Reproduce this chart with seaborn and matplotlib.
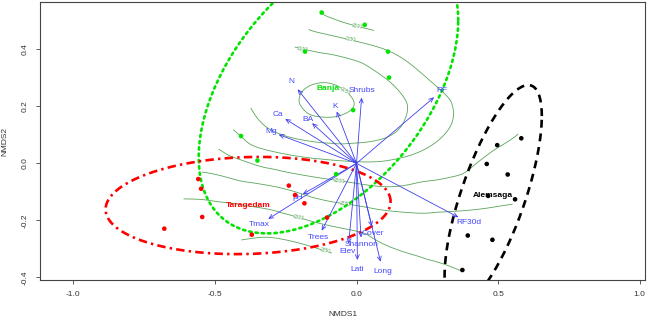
import numpy as np
import pandas as pd
import matplotlib
matplotlib.use("Agg")
import matplotlib.pyplot as plt
import matplotlib.tri as mtri
from matplotlib.path import Path
import seaborn as sns

# ---------------- data ----------------
groups = ["Banja", "Taragedam", "Alemsaga"]
group_colors = ["#00e400", "#ff0000", "#000000"]

banja_x = [-0.123, 0.029, -0.182, 0.111, 0.115, -0.012, -0.408, -0.350, -0.072]
banja_y = [0.529, 0.486, 0.392, 0.392, 0.301, 0.187, 0.096, 0.010, -0.038]
tara_x = [-0.559, -0.549, -0.545, -0.679, -0.239, -0.217, -0.184, -0.370, -0.104]
tara_y = [-0.055, -0.089, -0.188, -0.229, -0.078, -0.111, -0.140, -0.250, -0.190]
alem_x = [0.582, 0.497, 0.460, 0.534, 0.560, 0.465, 0.393, 0.480, 0.374]
alem_y = [0.088, 0.064, -0.002, -0.039, -0.126, -0.114, -0.253, -0.268, -0.374]

vec_names = ["N", "Shrubs", "K", "Ca", "BA", "Mg", "RF", "RF30d", "pH", "Tmax",
             "Trees", "Elev", "Lati", "Long", "Shannon", "Cover"]
vec_x = [-0.208, 0.018, -0.070, -0.252, -0.157, -0.275, 0.274, 0.360, -0.190, -0.312,
         -0.123, -0.028, 0.003, 0.085, 0.016, 0.054]
vec_y = [0.260, 0.231, 0.182, 0.156, 0.141, 0.101, 0.232, -0.189, -0.108, -0.195,
         -0.236, -0.282, -0.339, -0.345, -0.260, -0.222]

# fitted surface (ordisurf-like): coarse grid values estimated from the contours
surf_x = [-0.9, -0.7, -0.5, -0.3, -0.1, 0.1, 0.3, 0.5, 0.7]
surf_y = [-0.5, -0.4, -0.3, -0.2, -0.1, 0.0, 0.1, 0.2, 0.3, 0.4, 0.5, 0.6]
surf_z = [
    [2460, 2460, 2460, 2450, 2430, 2370, 2340, 2330, 2320],
    [2415, 2410, 2410, 2410, 2390, 2340, 2315, 2295, 2295],
    [2370, 2365, 2360, 2370, 2345, 2305, 2285, 2275, 2275],
    [2335, 2330, 2325, 2318, 2290, 2270, 2260, 2260, 2262],
    [2295, 2290, 2285, 2265, 2230, 2210, 2222, 2238, 2248],
    [2250, 2240, 2228, 2185, 2160, 2155, 2175, 2215, 2232],
    [2215, 2200, 2180, 2108, 2080, 2095, 2148, 2190, 2215],
    [2185, 2165, 2140, 2075, 2040, 2075, 2140, 2185, 2205],
    [2170, 2140, 2110, 2075, 2056, 2100, 2165, 2200, 2215],
    [2170, 2140, 2110, 2090, 2110, 2150, 2215, 2240, 2250],
    [2190, 2160, 2130, 2130, 2190, 2240, 2270, 2290, 2300],
    [2230, 2200, 2170, 2180, 2260, 2320, 2330, 2340, 2350],
]
contour_levels = [2050, 2100, 2150, 2200, 2250, 2300, 2350]

x_ticks = [-1.0, -0.5, 0.0, 0.5, 1.0]
y_ticks = [-0.4, -0.2, 0.0, 0.2, 0.4]

# ---------------- figure ----------------
sns.set_style("white")
plt.rcParams["font.family"] = ["Liberation Sans", "DejaVu Sans"]
plt.rcParams["axes.unicode_minus"] = False

fig = plt.figure(figsize=(6.48, 3.21), dpi=100)
ax = fig.add_axes([40 / 648, 41 / 321, 605 / 648, 278 / 321])

df = pd.DataFrame({
    "NMDS1": banja_x + tara_x + alem_x,
    "NMDS2": banja_y + tara_y + alem_y,
    "site": [groups[0]] * len(banja_x) + [groups[1]] * len(tara_x) + [groups[2]] * len(alem_x),
})
pal = dict(zip(groups, group_colors))

# ---- surface contours, restricted to convex hull of sites ----
pts = sorted(set(zip(df["NMDS1"], df["NMDS2"])))
def _cross(o, a, b):
    return (a[0] - o[0]) * (b[1] - o[1]) - (a[1] - o[1]) * (b[0] - o[0])
lower, upper = [], []
for p in pts:
    while len(lower) >= 2 and _cross(lower[-2], lower[-1], p) <= 0:
        lower.pop()
    lower.append(p)
for p in reversed(pts):
    while len(upper) >= 2 and _cross(upper[-2], upper[-1], p) <= 0:
        upper.pop()
    upper.append(p)
hull = Path(lower[:-1] + upper[:-1] + [lower[0]])

SX, SY = np.meshgrid(surf_x, surf_y)
tri = mtri.Triangulation(SX.ravel(), SY.ravel())
interp = mtri.CubicTriInterpolator(tri, np.array(surf_z, float).ravel(), kind="geom")
gx = np.linspace(df["NMDS1"].min() - 0.02, df["NMDS1"].max() + 0.02, 180)
gy = np.linspace(df["NMDS2"].min() - 0.02, df["NMDS2"].max() + 0.02, 180)
GX, GY = np.meshgrid(gx, gy)
GZ = np.ma.filled(interp(GX, GY), np.nan)
flat = np.c_[GX.ravel(), GY.ravel()]
inside = (hull.contains_points(flat, radius=0.012) | hull.contains_points(flat, radius=-0.012)).reshape(GX.shape)
GZ = np.ma.masked_where(~inside | np.isnan(GZ), GZ)
cs = ax.contour(GX, GY, GZ, levels=contour_levels, colors="#5aa55a", linewidths=0.6)
ax.clabel(cs, fmt="%d", fontsize=3.6, inline=True, inline_spacing=1)

# ---- group ellipses (95% sd ellipses) ----
ell_styles = {
    "Banja": (0, (0.9, 1.5)),
    "Taragedam": (0, (3.2, 1.6, 0.9, 1.6)),
    "Alemsaga": (0, (3.0, 2.2)),
}
scale = np.sqrt(-2 * np.log(0.05))
t = np.linspace(0, 2 * np.pi, 300)
for g in groups:
    sub = df[df["site"] == g]
    c = sub[["NMDS1", "NMDS2"]].mean().values
    cov = np.cov(sub["NMDS1"], sub["NMDS2"])
    L = np.linalg.cholesky(cov)
    e = c[:, None] + scale * L @ np.vstack([np.cos(t), np.sin(t)])
    ax.plot(e[0], e[1], color=pal[g], lw=1.9, linestyle=ell_styles[g],
            dash_capstyle="round" if g == "Banja" else "butt")

# ---- environmental vectors ----
arrow_col = "#3f3ff0"
for name, vx, vy in zip(vec_names, vec_x, vec_y):
    ax.annotate("", xy=(vx, vy), xytext=(0, 0),
                arrowprops=dict(arrowstyle="->,head_length=0.45,head_width=0.2",
                                color=arrow_col, lw=0.6, shrinkA=0, shrinkB=0,
                                mutation_scale=7))
    ax.text(vx * 1.1, vy * 1.1, name, color="#4646ff", fontsize=6,
            ha="center", va="center")

# ---- site points ----
sns.scatterplot(data=df, x="NMDS1", y="NMDS2", hue="site", palette=pal,
                s=11, linewidth=0, legend=False, ax=ax, zorder=5)

# ---- group labels at centroids ----
for g in groups:
    sub = df[df["site"] == g]
    ax.text(sub["NMDS1"].mean(), sub["NMDS2"].mean(), g, color=pal[g],
            fontsize=6, fontweight="bold", ha="center", va="center", zorder=6)

# ---- axes styling ----
ax.set_xlim(-1.118, 1.019)
ax.set_ylim(-0.409, 0.566)
ax.set_xticks(x_ticks)
ax.set_xticklabels([f"{v:.1f}" for v in x_ticks])
ax.set_yticks(y_ticks)
ax.set_yticklabels([f"{v:.1f}" for v in y_ticks], rotation=90, va="center")
for s in ax.spines.values():
    s.set_color("#444444")
    s.set_linewidth(0.8)
ax.tick_params(axis="both", which="both", direction="out", length=3, width=0.6,
               color="#444444", labelsize=6, labelcolor="#333333", pad=5,
               left=True, bottom=True, top=False, right=False)
ax.set_xlabel("NMDS1", fontsize=6, color="#333333")
ax.set_ylabel("NMDS2", fontsize=6, color="#333333")
ax.xaxis.set_label_coords(0.5, -0.113)
ax.yaxis.set_label_coords(-0.053, 0.5)

fig.savefig("out.png", dpi=100)
